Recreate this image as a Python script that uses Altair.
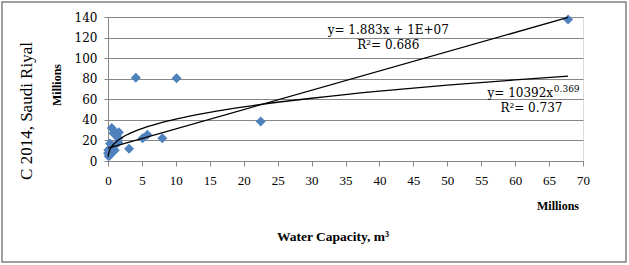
import altair as alt
import pandas as pd

# Scatter data (millions)
water_capacity = [67.8, 4.1, 10.1, 22.5, 8.0, 5.8, 5.1, 3.1, 0.55, 1.0, 1.6, 1.3, 0.8,
                  1.5, 0.3, 0.05, 0.0, 0.5, 0.3, 1.0, 0.8, 1.5, 0.2, 0.1]
cost_2014 = [137.5, 81.0, 80.4, 38.4, 22.0, 25.5, 22.0, 12.0, 32.0, 28.5, 28.0, 25.3, 27.0,
             18.0, 17.0, 10.7, 7.5, 7.5, 5.8, 10.5, 14.0, 22.0, 10.0, 4.5]

# Linear trendline
lin_x = [0.02, 67.8]
lin_y = [12.5, 139.6]

# Power trendline
pow_x = [0.02, 0.05, 0.1, 0.2, 0.5, 1, 2, 3, 5, 7.5, 10, 15, 20, 30, 40, 50, 60, 67.8]
pow_y = [4.1, 5.8, 7.4, 9.6, 13.5, 17.4, 22.5, 26.1, 31.5, 36.6, 40.7, 47.3, 52.6,
         61.0, 67.9, 73.7, 78.8, 82.5]

x_ticks = list(range(0, 75, 5))
y_ticks = list(range(0, 160, 20))

FONT = "Liberation Serif"
WIDE = "DejaVu Serif"
GRID = "#868686"

pts = pd.DataFrame({"x": water_capacity, "y": cost_2014})
lin = pd.DataFrame({"x": lin_x, "y": lin_y})
pw = pd.DataFrame({"x": pow_x, "y": pow_y})

xs = alt.Scale(domain=[0, 70], nice=False, zero=True)
ys = alt.Scale(domain=[0, 140], nice=False)

xax = alt.Axis(values=x_ticks, grid=False, domainColor=GRID, tickColor=GRID, tickSize=5,
               labelFont=FONT, labelFontSize=13, labelColor="black", labelPadding=8,
               title=None, labelFlush=False, labelOverlap=False)
yax = alt.Axis(values=y_ticks, grid=True, gridColor=GRID, domainColor=GRID, tickColor=GRID,
               tickSize=4, labelFont=WIDE, labelFontSize=12, labelColor="black",
               labelPadding=7, title=None, labelOverlap=False)

points = alt.Chart(pts).mark_point(shape="diamond", filled=True, size=100, color="#4F81BD",
                                   opacity=1).encode(
    x=alt.X("x:Q", scale=xs, axis=xax),
    y=alt.Y("y:Q", scale=ys, axis=yax),
)

lin_line = alt.Chart(lin).mark_line(color="black", strokeWidth=1.3).encode(
    x=alt.X("x:Q", scale=xs, axis=xax), y=alt.Y("y:Q", scale=ys, axis=yax))
pow_line = alt.Chart(pw).mark_line(color="black", strokeWidth=1.3, interpolate="monotone").encode(
    x=alt.X("x:Q", scale=xs, axis=xax), y=alt.Y("y:Q", scale=ys, axis=yax))

def txt(s, x, y, size=12, align="center", dy=0, weight="normal"):
    return alt.Chart(pd.DataFrame({"t": [s]})).mark_text(
        font=WIDE, fontSize=size, align=align, baseline="middle", dy=dy,
        fontWeight=weight, color="black").encode(
        x=alt.X(datum=x, scale=xs, axis=xax), y=alt.Y(datum=y, scale=ys, axis=yax),
        text="t:N")

ann = [
    txt("y= 1.883x + 1E+07", 41.3, 127.5),
    txt("R²= 0.686", 41.3, 112.5),
    txt("y= 10392x", 65.6, 66, align="right"),
    txt("0.369", 65.7, 66, size=9, align="left", dy=-4),
    txt("R²= 0.737", 62.4, 51.5),
]

def ptxt(s, x, y, size, angle=0, weight="bold"):
    return alt.Chart(pd.DataFrame({"t": [s]})).mark_text(
        font=FONT, fontSize=size, align="center", baseline="middle", angle=angle,
        fontWeight=weight, color="black").encode(
        x=alt.value(x), y=alt.value(y), text="t:N")

titles = [
    ptxt("C 2014, Saudi Riyal", -81, 94, 17, angle=270, weight="normal"),
    ptxt("Millions", -51, 68, 12, angle=270),
    ptxt("Millions", 450, 189, 12),
    ptxt("Water Capacity, m³", 225, 220, 13.5),
]

border = alt.Chart(pd.DataFrame({"a": [0]})).mark_rect(
    fill=None, stroke="#808080", strokeWidth=1.5).encode(
    x=alt.value(-106), x2=alt.value(518), y=alt.value(-15), y2=alt.value(245))

chart = alt.layer(points, lin_line, pow_line, *ann, *titles, border).properties(
    width=475, height=144,
    autosize=alt.AutoSizeParams(type="none"),
    padding={"left": 108, "top": 17, "right": 46, "bottom": 104},
).configure_view(stroke=None).configure(background="white", font=FONT)

chart.save("out.html", embed_options={"renderer": "svg", "actions": False})
